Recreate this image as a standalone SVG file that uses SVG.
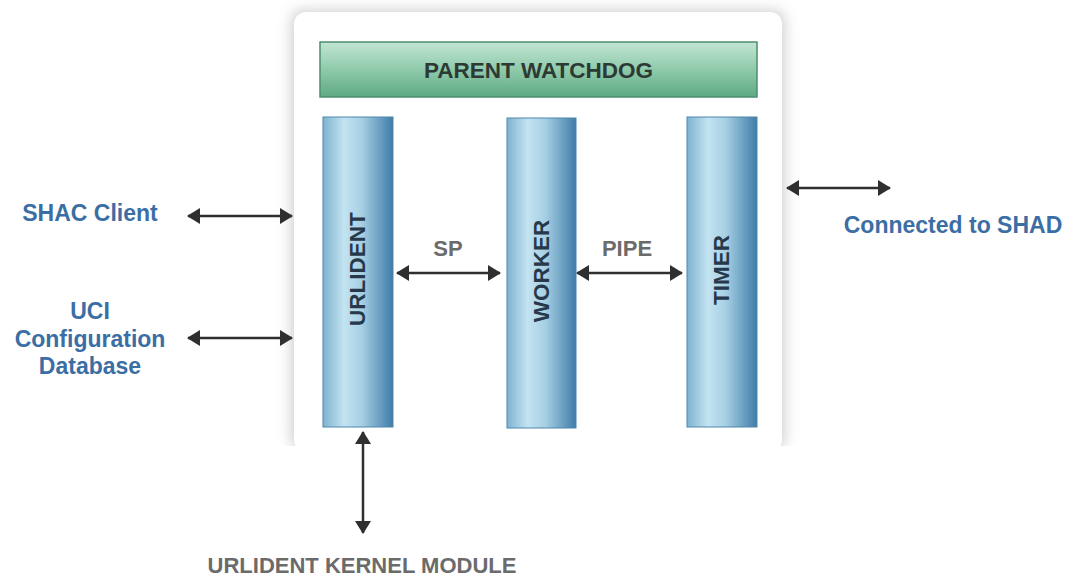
<svg xmlns="http://www.w3.org/2000/svg" width="1067" height="577" viewBox="0 0 1067 577">
<style>
.lbl{font-family:"Liberation Sans",Arial,sans-serif;font-weight:bold;fill:#3a6ea5;font-size:23px;text-anchor:middle}
.gray{font-family:"Liberation Sans",Arial,sans-serif;font-weight:bold;fill:#6b6b6b;font-size:22px;text-anchor:middle}
.col{font-family:"Liberation Sans",Arial,sans-serif;font-weight:bold;fill:#26384a;font-size:22.5px;text-anchor:middle}
.colbox{fill:url(#colGrad);stroke:#4f86ad;stroke-width:1}
.conn{stroke:#2f2f2f;stroke-width:2.5;fill:none;marker-start:url(#ah);marker-end:url(#ah)}
</style>
<defs>
<linearGradient id="colGrad" x1="0" y1="0" x2="1" y2="0">
<stop offset="0" stop-color="#7fb3d0"/>
<stop offset="0.3" stop-color="#c3e3f1"/>
<stop offset="0.55" stop-color="#a7d0e4"/>
<stop offset="1" stop-color="#3f7ca8"/>
</linearGradient>
<linearGradient id="greenGrad" x1="0" y1="0" x2="0" y2="1">
<stop offset="0" stop-color="#c2e6d3"/>
<stop offset="0.5" stop-color="#8fcaab"/>
<stop offset="1" stop-color="#5ea985"/>
</linearGradient>
<filter id="blur" x="-20%" y="-20%" width="140%" height="140%">
<feGaussianBlur stdDeviation="7"/>
</filter>
<marker id="ah" viewBox="0 0 13 16" refX="12" refY="8" markerWidth="13" markerHeight="16" markerUnits="userSpaceOnUse" orient="auto-start-reverse">
<path d="M0,0 L13,8 L0,16 Z" fill="#2f2f2f"/>
</marker>
</defs>
<rect width="1067" height="577" fill="#ffffff"/>
<g id="container">
<rect x="291" y="10" width="494" height="440" rx="12" fill="#b0b0b0" filter="url(#blur)" opacity="0.6"/>
<rect x="0" y="446" width="1067" height="131" fill="#ffffff"/>
<rect x="294" y="12" width="488" height="440" rx="12" fill="#ffffff"/>
</g>
<g id="parent-watchdog">
<rect x="320" y="42" width="437" height="55" fill="url(#greenGrad)" stroke="#4d8f6e" stroke-width="1.5"/>
<text x="538.5" y="77.5" class="col" style="fill:#2d3a33">PARENT WATCHDOG</text>
</g>
<g id="urlident">
<rect x="323" y="117" width="70" height="310" class="colbox"/>
<text transform="translate(365,269) rotate(-90)" class="col">URLIDENT</text>
</g>
<g id="worker">
<rect x="507" y="118" width="69" height="310" class="colbox"/>
<text transform="translate(549,271) rotate(-90)" class="col">WORKER</text>
</g>
<g id="timer">
<rect x="687" y="117" width="70" height="310" class="colbox"/>
<text transform="translate(729,270) rotate(-90)" class="col">TIMER</text>
</g>
<g id="shac-client"><text x="90" y="221" class="lbl">SHAC Client</text></g>
<g id="uci-db">
<text x="90" y="319" class="lbl">UCI</text>
<text x="90" y="347" class="lbl">Configuration</text>
<text x="90" y="374" class="lbl">Database</text>
</g>
<g id="shad"><text x="953" y="233" class="lbl">Connected to SHAD</text></g>
<g id="kernel-module"><text x="362" y="573" class="gray">URLIDENT KERNEL MODULE</text></g>
<g id="connectors">
<line x1="188" y1="216" x2="292" y2="216" class="conn"/>
<line x1="188" y1="338" x2="292" y2="338" class="conn"/>
<line x1="787" y1="188" x2="890" y2="188" class="conn"/>
<line x1="397" y1="273" x2="500" y2="273" class="conn"/>
<line x1="577" y1="273" x2="682" y2="273" class="conn"/>
<line x1="363" y1="432" x2="363" y2="533" class="conn"/>
<text x="448" y="256" class="gray">SP</text>
<text x="627" y="256" class="gray">PIPE</text>
</g>
</svg>
